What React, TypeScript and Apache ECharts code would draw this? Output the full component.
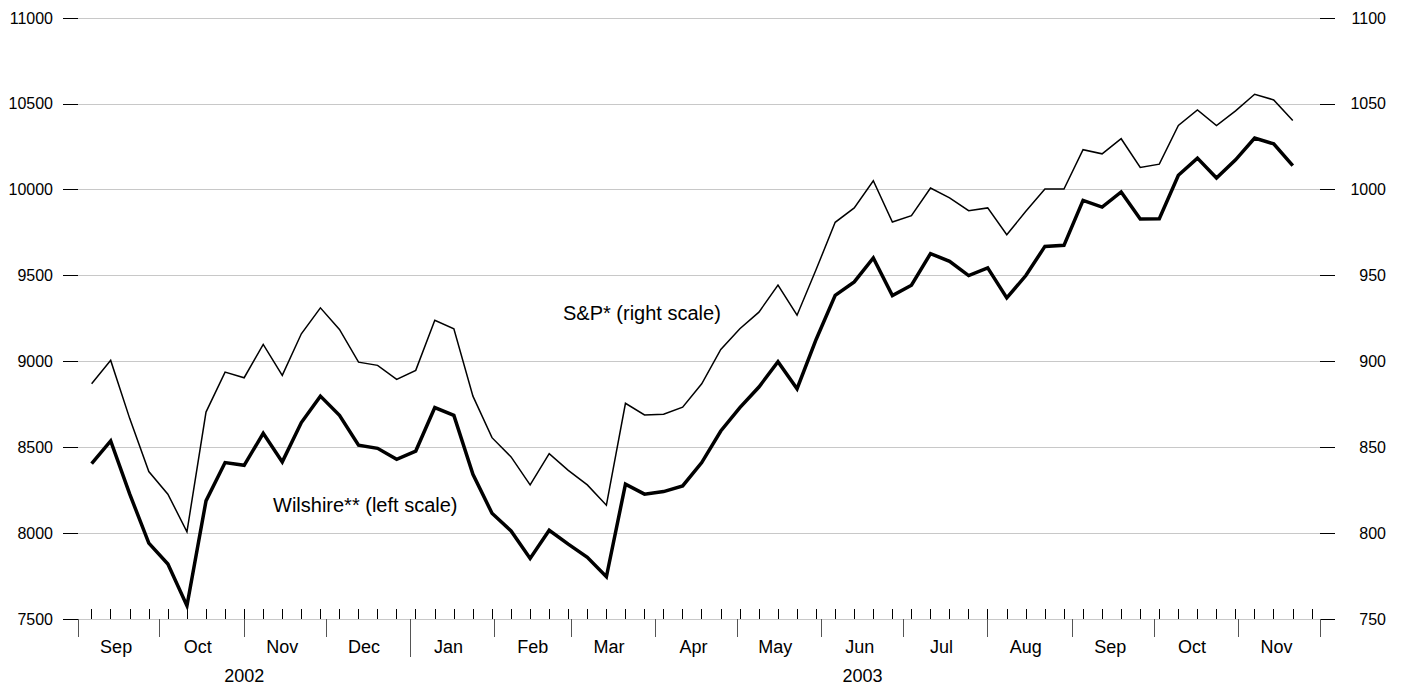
import React, { useEffect, useRef } from "react";
import * as echarts from "echarts";

// Weekly observation dates (Fridays)
const weekDates = [
  "2002-09-06", "2002-09-13", "2002-09-20", "2002-09-27",
  "2002-10-04", "2002-10-11", "2002-10-18", "2002-10-25",
  "2002-11-01", "2002-11-08", "2002-11-15", "2002-11-22", "2002-11-29",
  "2002-12-06", "2002-12-13", "2002-12-20", "2002-12-27",
  "2003-01-03", "2003-01-10", "2003-01-17", "2003-01-24", "2003-01-31",
  "2003-02-07", "2003-02-14", "2003-02-21", "2003-02-28",
  "2003-03-07", "2003-03-14", "2003-03-21", "2003-03-28",
  "2003-04-04", "2003-04-11", "2003-04-18", "2003-04-25",
  "2003-05-02", "2003-05-09", "2003-05-16", "2003-05-23", "2003-05-30",
  "2003-06-06", "2003-06-13", "2003-06-20", "2003-06-27",
  "2003-07-04", "2003-07-11", "2003-07-18", "2003-07-25",
  "2003-08-01", "2003-08-08", "2003-08-15", "2003-08-22", "2003-08-29",
  "2003-09-05", "2003-09-12", "2003-09-19", "2003-09-26",
  "2003-10-03", "2003-10-10", "2003-10-17", "2003-10-24", "2003-10-31",
  "2003-11-07", "2003-11-14", "2003-11-21",
];

// Wilshire** (left scale)
const wilshire = [
  8405, 8537, 8227, 7942,
  7820, 7577, 8188, 8411,
  8395, 8581, 8415, 8644, 8798,
  8686, 8512, 8494, 8430,
  8478, 8731, 8686, 8343, 8116,
  8013, 7853, 8017, 7936,
  7859, 7746, 8285, 8227,
  8242, 8275, 8411, 8595,
  8731, 8851, 8998, 8841, 9128,
  9385, 9463, 9603, 9384,
  9444, 9628, 9583, 9500,
  9545, 9370, 9500, 9670, 9676,
  9938, 9899, 9987, 9830,
  9831, 10084, 10184, 10068, 10174,
  10301, 10267, 10140,
];

// S&P* (right scale)
const sp = [
  887.0, 900.6, 866.7, 835.9,
  822.7, 800.8, 870.5, 893.8,
  890.5, 909.9, 891.9, 916.1, 931.2,
  918.6, 899.6, 897.7, 889.5,
  894.8, 924.0, 919.0, 879.8, 855.6,
  844.4, 828.1, 846.3, 836.6,
  828.1, 816.3, 875.6, 868.8,
  869.2, 873.4, 887.0, 907.0,
  919.0, 928.7, 944.4, 926.9, 953.5,
  981.0, 989.4, 1005.2, 981.2,
  984.9, 1001.0, 995.2, 987.8,
  989.4, 973.8, 987.4, 1000.4, 1000.4,
  1023.3, 1020.9, 1029.7, 1013.0,
  1014.9, 1037.4, 1046.5, 1037.4, 1045.9,
  1055.6, 1052.3, 1040.3,
];

const extraWeekTicks = ["2003-11-28"];

const monthStarts = [
  "2002-09-01", "2002-10-01", "2002-11-01", "2002-12-01", "2003-01-01",
  "2003-02-01", "2003-03-01", "2003-04-01", "2003-05-01", "2003-06-01",
  "2003-07-01", "2003-08-01", "2003-09-01", "2003-10-01", "2003-11-01",
  "2003-12-01",
];

const monthLabelDates = [
  "2002-09-15", "2002-10-15", "2002-11-15", "2002-12-15", "2003-01-15",
  "2003-02-15", "2003-03-15", "2003-04-15", "2003-05-15", "2003-06-15",
  "2003-07-15", "2003-08-15", "2003-09-15", "2003-10-15", "2003-11-15",
];

const monthNames = ["Jan", "Feb", "Mar", "Apr", "May", "Jun", "Jul", "Aug", "Sep", "Oct", "Nov", "Dec"];

const yearBoundaries = ["2003-01-01"];
const yearLabelDates = ["2002-11-01", "2003-06-16"];

const axisStart = "2002-09-01";
const axisEnd = "2003-12-01";

const FONT = "'Liberation Sans', Arial, Helvetica, sans-serif";

function ts(s: string): number {
  const [y, m, d] = s.split("-").map(Number);
  return Date.UTC(y, m - 1, d);
}

export default function App() {
  const ref = useRef<HTMLDivElement>(null);

  useEffect(() => {
    if (!ref.current) return;
    const chart = echarts.init(ref.current, null, { renderer: "svg" });
    const xMin = ts(axisStart);
    const xMax = ts(axisEnd);

    const baseX = {
      type: "value",
      min: xMin,
      max: xMax,
      position: "bottom",
      axisLine: { show: false },
      splitLine: { show: false },
    };

    const option: any = {
      animation: false,
      backgroundColor: "#ffffff",
      grid: { left: 78, right: 84, top: 18, bottom: 65, containLabel: false },
      xAxis: [
        {
          ...baseX,
          axisTick: {
            show: true,
            inside: true,
            length: 10,
            customValues: weekDates.concat(extraWeekTicks).map(ts),
            lineStyle: { color: "#000", width: 1 },
          },
          axisLabel: { show: false },
        },
        {
          ...baseX,
          axisTick: {
            show: true,
            inside: false,
            length: 18,
            customValues: monthStarts.map(ts),
            lineStyle: { color: "#555", width: 1 },
          },
          axisLabel: {
            show: true,
            customValues: monthLabelDates.map(ts),
            formatter: (v: number) => monthNames[new Date(v).getUTCMonth()],
            fontSize: 18,
            fontFamily: FONT,
            color: "#000",
            margin: 19,
          },
        },
        {
          ...baseX,
          axisTick: {
            show: true,
            inside: false,
            length: 38,
            customValues: yearBoundaries.map(ts),
            lineStyle: { color: "#555", width: 1 },
          },
          axisLabel: {
            show: true,
            customValues: yearLabelDates.map(ts),
            formatter: (v: number) => String(new Date(v).getUTCFullYear()),
            fontSize: 18,
            fontFamily: FONT,
            color: "#000",
            margin: 48,
          },
        },
      ],
      yAxis: [
        {
          type: "value",
          position: "left",
          min: 7500,
          max: 11000,
          interval: 500,
          axisLine: { show: false },
          axisTick: { show: true, inside: false, length: 15, lineStyle: { color: "#000", width: 1 } },
          axisLabel: {
            fontSize: 16,
            fontFamily: FONT,
            color: "#000",
            margin: 25,
            formatter: (v: number) => String(v),
          },
          splitLine: { show: true, lineStyle: { color: "#c8c8c8", width: 1 } },
        },
        {
          type: "value",
          position: "right",
          min: 750,
          max: 1100,
          interval: 50,
          axisLine: { show: false },
          axisTick: { show: true, inside: false, length: 15, lineStyle: { color: "#000", width: 1 } },
          axisLabel: {
            fontSize: 16,
            fontFamily: FONT,
            color: "#000",
            margin: 66,
            align: "right",
            formatter: (v: number) => String(v),
          },
          splitLine: { show: false },
        },
      ],
      series: [
        {
          name: "S&P* (right scale)",
          type: "line",
          xAxisIndex: 0,
          yAxisIndex: 1,
          showSymbol: false,
          data: weekDates.map((d, i) => [ts(d), sp[i]]),
          lineStyle: { color: "#000", width: 1.5, join: "miter" },
          z: 3,
        },
        {
          name: "Wilshire** (left scale)",
          type: "line",
          xAxisIndex: 0,
          yAxisIndex: 0,
          showSymbol: false,
          data: weekDates.map((d, i) => [ts(d), wilshire[i]]),
          lineStyle: { color: "#000", width: 3.5, join: "miter" },
          z: 4,
        },
      ],
      graphic: [
        {
          type: "text",
          left: 563,
          top: 303,
          style: { text: "S&P* (right scale)", fontSize: 20, fontFamily: FONT, fill: "#000" },
        },
        {
          type: "text",
          left: 273,
          top: 495,
          style: { text: "Wilshire** (left scale)", fontSize: 20, fontFamily: FONT, fill: "#000" },
        },
      ],
    };

    chart.setOption(option);
    return () => chart.dispose();
  }, []);

  return (
    <div
      ref={ref}
      style={{ position: "fixed", left: 0, top: 0, width: 1404, height: 685, background: "#fff" }}
    />
  );
}
